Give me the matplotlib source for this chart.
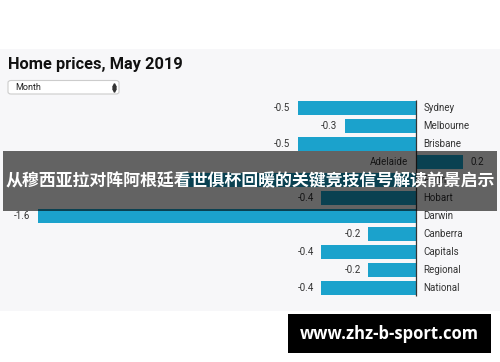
import matplotlib
matplotlib.use("Agg")
import matplotlib.pyplot as plt
import matplotlib.transforms as mtransforms
from matplotlib.patches import Rectangle, FancyBboxPatch
from matplotlib.lines import Line2D

# data
cities = ["Sydney", "Melbourne", "Brisbane", "Adelaide", "Perth", "Hobart",
          "Darwin", "Canberra", "Capitals", "Regional", "National"]
change = [-0.5, -0.3, -0.5, 0.2, -1.0, -0.4, -1.6, -0.2, -0.4, -0.2, -0.4]

title = "Home prices, May 2019"
dropdown = "Month"
banner = "从穆西亚拉对阵阿根廷看世俱杯回暖的关键竞技信号解读前景启示"
watermark = "www.zhz-b-sport.com"

W, H = 500, 362
bar_color = "#1ba2cc"
text_color = "#333333"

fig = plt.figure(figsize=(W / 100, H / 100), dpi=100)
fig.patch.set_facecolor("white")


def px(x, y):
    # pixel coords (from top-left) -> figure fraction
    return x / W, 1 - y / H


def rect(x0, y0, x1, y1, **kw):
    fx, fy = px(x0, y1)
    r = Rectangle((fx, fy), (x1 - x0) / W, (y1 - y0) / H,
                  transform=fig.transFigure, **kw)
    fig.add_artist(r)
    return r


# grey panel behind the chart
rect(0, 49, W, 311, facecolor="#f7f7f9", edgecolor="none", zorder=-2)

# title + dropdown
fig.text(*px(8, 64), title, fontsize=11.8, fontweight="bold", family="Roboto",
         color="#111111", va="center", ha="left")
bx, by = px(8, 94)
box = FancyBboxPatch((bx, by), 111 / W, 13.5 / H,
                     boxstyle="round,pad=0,rounding_size=0.006",
                     transform=fig.transFigure, facecolor="white",
                     edgecolor="#cccccc", linewidth=0.8, zorder=-1)
fig.add_artist(box)
fig.text(*px(15, 87.5), dropdown, fontsize=6.5, family="Roboto",
         color="#222222", va="center", ha="left")
for yy, mk in ((85.3, "^"), (89.7, "v")):
    fig.add_artist(Line2D([114 / W], [1 - yy / H], marker=mk, markersize=2.6,
                          color="#333333", linestyle="none",
                          transform=fig.transFigure))

# chart axes, zero at x=415.7 px, 236 px per unit, rows every 18 px from y=108
ax = fig.add_axes([0, 0, 1, 1])
ax.patch.set_alpha(0)
ax.set_xlim(-415.7 / 236, (W - 415.7) / 236)
ax.set_ylim((H - 108) / 18, -108 / 18)
ax.axis("off")

ypos = list(range(len(cities)))
ax.barh(ypos, change, height=0.78, color=bar_color, zorder=2)
ax.vlines(0, -0.45, len(cities) - 0.55, color="#333333", linewidth=0.9, zorder=3)

left = mtransforms.offset_copy(ax.transData, fig=fig, x=-7.5, y=0, units="dots")
right = mtransforms.offset_copy(ax.transData, fig=fig, x=7.5, y=0, units="dots")

for y, name, v in zip(ypos, cities, change):
    if v < 0:
        ax.text(v, y, f"{v:.1f}", transform=left, ha="right", va="center",
                fontsize=7, family="Roboto", color=text_color)
        ax.text(0, y, name, transform=right, ha="left", va="center",
                fontsize=7, family="Roboto", color=text_color)
    else:
        ax.text(v, y, f"{v:.1f}", transform=right, ha="left", va="center",
                fontsize=7, family="Roboto", color=text_color)
        ax.text(0, y, name, transform=left, ha="right", va="center",
                fontsize=7, family="Roboto", color=text_color)

# dark overlay banner with headline
rect(3, 151, 497, 211, facecolor="black", alpha=0.6, edgecolor="none", zorder=5)
fig.text(*px(250, 181), banner, fontsize=12.2, fontweight="bold",
         family=["Noto Sans CJK SC", "DejaVu Sans"], color="white",
         ha="center", va="center", zorder=6)

# watermark
rect(288, 314, 491, 353, facecolor="black", edgecolor="none", zorder=5)
fig.text(*px(389, 334), watermark, fontsize=12, fontweight="bold",
         family="Open Sans", color="white", ha="center", va="center", zorder=6)

fig.savefig("out.png", dpi=100)
